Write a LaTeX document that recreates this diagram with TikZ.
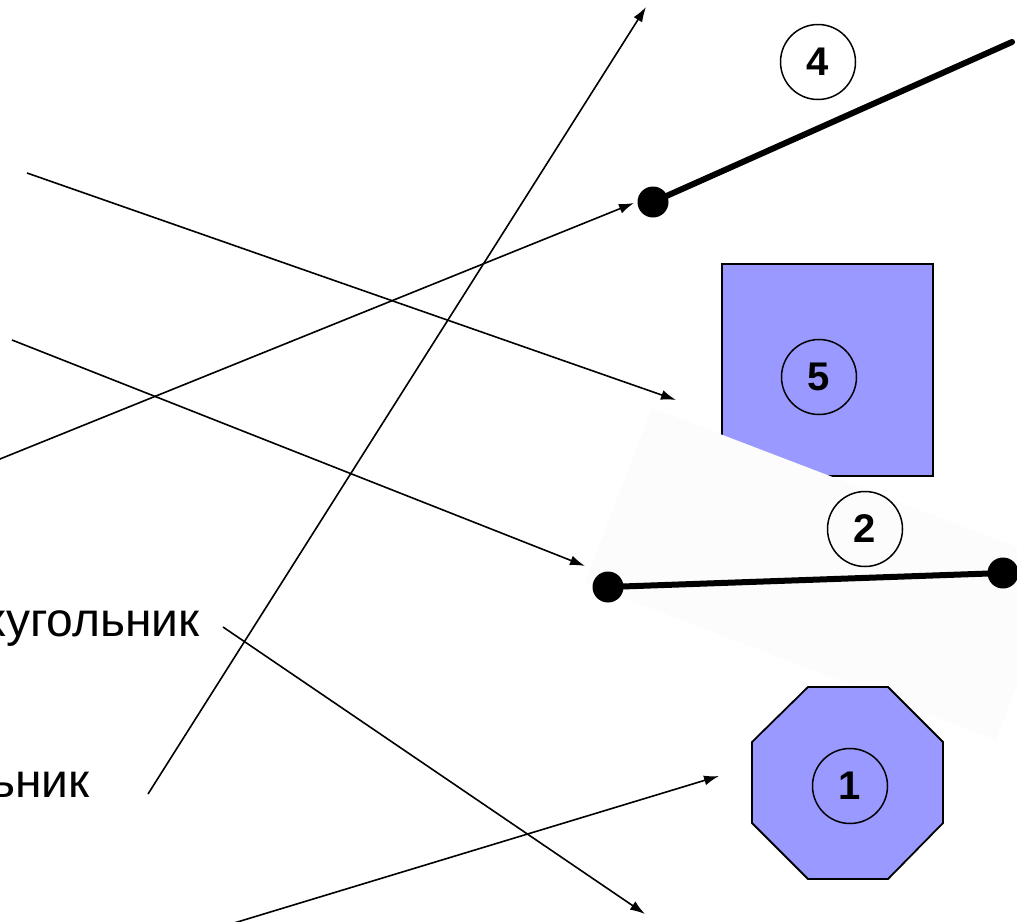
\documentclass[tikz,border=0pt]{standalone}
\usepackage{fontspec}
\setmainfont{Liberation Sans}
\usetikzlibrary{arrows.meta}
\definecolor{shapeblue}{HTML}{9999FF}
\definecolor{paperwhite}{HTML}{FCFCFC}
\tikzset{
 conn/.style={line width=1.6pt, -{Latex[length=15pt,width=10pt]}},
 numcirc/.style={circle, draw, line width=1.5pt, minimum size=75pt, inner sep=0pt, font=\fontsize{40}{40}\selectfont\bfseries},
 thickseg/.style={line width=6pt},
 blackdot/.style={circle, fill=black, minimum size=31pt, inner sep=0pt},
 wordtxt/.style={font=\fontsize{48}{48}\selectfont, anchor=base east, inner sep=0pt},
 blueshape/.style={fill=shapeblue, draw=black, line width=1.8pt}
}
\begin{document}
\begin{tikzpicture}[x=1pt,y=-1pt]
\useasboundingbox (0,0) rectangle (1017,921);
\clip (0,0) rectangle (1017,921);
\fill[white] (0,0) rectangle (1017,921);
% square 5
\draw[blueshape] (722,264) rectangle (933,476);
% rotated paper behind segment 2
\fill[paperwhite] (652,408) -- (1063,565) -- (996,740) -- (585,583) -- cycle;
% octagon 1
\draw[blueshape] (808,687) -- (888,687) -- (943,742) -- (943,823) -- (888,879) -- (808,879) -- (752,823) -- (752,742) -- cycle;
% segment 2
\node[blackdot] (s2a) at (608,587) {};
\node[blackdot] (s2b) at (1003,573) {};
\draw[thickseg] (s2a.center) -- (s2b.center);
% ray 4
\node[blackdot] (r4a) at (653,202) {};
\coordinate (r4b) at (1012,42);
\draw[thickseg, line cap=round] (r4a.center) -- (r4b);
% number circles
\node[numcirc] (c4) at (818,62) {4};
\node[numcirc] (c5) at (819,377) {5};
\node[numcirc] (c2) at (865,529) {2};
\node[numcirc] (c1) at (850,786) {1};
% words
\node[wordtxt] (w1) at (200,636) {Четырехугольник};
\node[wordtxt] (w2) at (90,797) {Треугольник};
% arrows
\coordinate (a1s) at (148,794); \coordinate (a1e) at (646,7);
\coordinate (a2s) at (27,173);  \coordinate (a2e) at (676,400);
\coordinate (a3s) at (12,340);  \coordinate (a3e) at (585,566);
\coordinate (a4s) at (-5,461);  \coordinate (a4e) at (634,203);
\coordinate (a5s) at (223,627); \coordinate (a5e) at (645,914);
\coordinate (a6s) at (234,923); \coordinate (a6e) at (719,776);
\draw[conn] (a1s) -- (a1e);
\draw[conn] (a2s) -- (a2e);
\draw[conn] (a3s) -- (a3e);
\draw[conn] (a4s) -- (a4e);
\draw[conn] (a5s) -- (a5e);
\draw[conn] (a6s) -- (a6e);
\end{tikzpicture}
\end{document}
